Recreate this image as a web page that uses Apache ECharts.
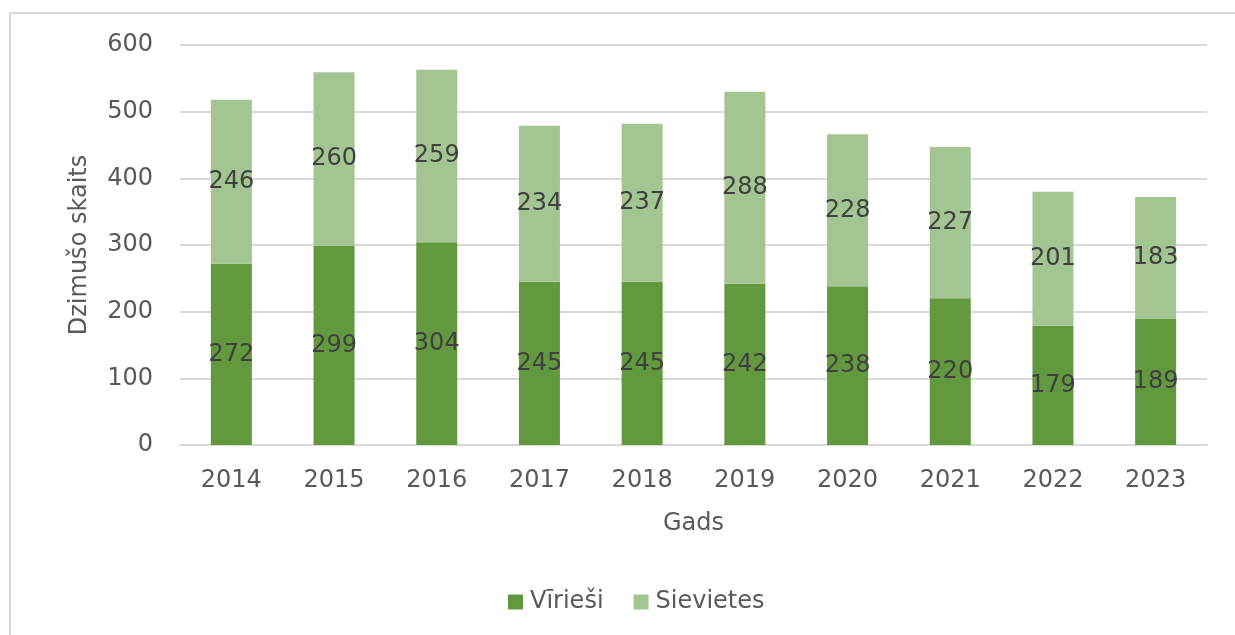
<!DOCTYPE html>
<html>
<head>
<meta charset="utf-8">
<script src="https://cdn.jsdelivr.net/npm/echarts@6/dist/echarts.min.js"></script>
<style>
  html, body { margin: 0; padding: 0; background: #fff; }
  #main { width: 1235px; height: 635px; }
</style>
</head>
<body>
<div id="main"></div>
<script>
// data
var years = ['2014', '2015', '2016', '2017', '2018', '2019', '2020', '2021', '2022', '2023'];
var virieshi = [272, 299, 304, 245, 245, 242, 238, 220, 179, 189];
var sievietes = [246, 260, 259, 234, 237, 288, 228, 227, 201, 183];

var font = 'DejaVu Sans';
var labelStyle = {
  show: true,
  position: 'inside',
  color: '#404040',
  fontFamily: font,
  fontSize: 24
};

var chart = echarts.init(document.getElementById('main'));
chart.setOption({
  animation: false,
  textStyle: { fontFamily: font },
  graphic: [{
    type: 'rect',
    shape: { x: 10, y: 13, width: 1500, height: 900 },
    style: { fill: 'none', stroke: '#d9d9d9', lineWidth: 2 },
    silent: true
  }],
  grid: { left: 180, right: 28, top: 45, bottom: 190 },
  legend: {
    bottom: 16,
    left: 503,
    itemWidth: 15,
    itemHeight: 15,
    itemGap: 30,
    icon: 'rect',
    textStyle: { color: '#595959', fontSize: 24, fontFamily: font, padding: [0, 0, 0, 2] },
    data: ['Vīrieši', 'Sievietes']
  },
  xAxis: {
    type: 'category',
    data: years,
    name: 'Gads',
    nameLocation: 'middle',
    nameGap: 67,
    nameTextStyle: { color: '#595959', fontSize: 24, fontFamily: font },
    axisLine: { lineStyle: { color: '#d9d9d9', width: 2 } },
    axisTick: { show: false },
    axisLabel: { color: '#595959', fontSize: 24, fontFamily: font, margin: 24 }
  },
  yAxis: {
    type: 'value',
    min: 0,
    max: 600,
    interval: 100,
    name: 'Dzimušo skaits',
    nameLocation: 'middle',
    nameGap: 88,
    nameTextStyle: { color: '#595959', fontSize: 24, fontFamily: font },
    axisLine: { show: false },
    axisTick: { show: false },
    axisLabel: { color: '#595959', fontSize: 24, fontFamily: font, margin: 27 },
    splitLine: { lineStyle: { color: '#d9d9d9', width: 2 } }
  },
  series: [
    {
      name: 'Vīrieši',
      type: 'bar',
      stack: 'total',
      barWidth: 41,
      itemStyle: { color: '#62993e' },
      label: labelStyle,
      data: virieshi
    },
    {
      name: 'Sievietes',
      type: 'bar',
      stack: 'total',
      barWidth: 41,
      itemStyle: { color: '#a3c592' },
      label: labelStyle,
      data: sievietes
    }
  ]
});
</script>
</body>
</html>
